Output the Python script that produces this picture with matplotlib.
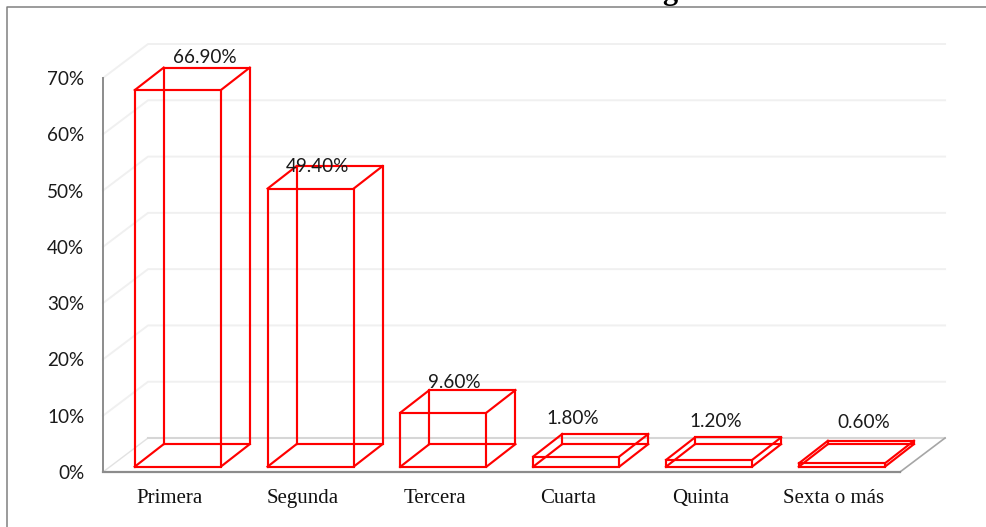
#!/usr/bin/env python3
import matplotlib
matplotlib.use('Agg')
import matplotlib.pyplot as plt
from matplotlib.lines import Line2D

categories = ['Primera', 'Segunda', 'Tercera', 'Cuarta', 'Quinta', 'Sexta o más']
values = [66.9, 49.4, 9.6, 1.8, 1.2, 0.6]
value_labels = ['66.90%', '49.40%', '9.60%', '1.80%', '1.20%', '0.60%']
y_ticks = [0, 10, 20, 30, 40, 50, 60, 70]

# label nudges in pixels, measured from the back top edge of each box
label_nudges = [(-2, 10), (-22, 0), (-18, 8), (-32, 16), (-22, 16), (-7, 18)]

W, H = 987, 527
RED = '#ff0000'

# oblique projection, in data units
BAR_W = 0.648
BAR_SHIFT = 0.563
BASE_Y = 0.95
BOX_DX, BOX_DY = 0.218, 4.0
WALL_DX, WALL_DY = 0.339, 6.04


def draw_box(ax, x0, x1, y0, y1):
    dx, dy = BOX_DX, BOX_DY
    edges = [
        # front face
        ([x0, x1, x1, x0, x0], [y0, y0, y1, y1, y0]),
        # back face
        ([x0 + dx, x1 + dx, x1 + dx, x0 + dx, x0 + dx],
         [y0 + dy, y0 + dy, y1 + dy, y1 + dy, y0 + dy]),
        # connecting edges
        ([x0, x0 + dx], [y0, y0 + dy]),
        ([x1, x1 + dx], [y0, y0 + dy]),
        ([x0, x0 + dx], [y1, y1 + dy]),
        ([x1, x1 + dx], [y1, y1 + dy]),
    ]
    for xs, ys in edges:
        ax.plot(xs, ys, color=RED, lw=1.55, clip_on=False, zorder=3,
                solid_joinstyle='miter')


def main():
    fig = plt.figure(figsize=(W / 100, H / 100), dpi=100)
    ax = fig.add_axes([103 / W, (H - 472) / H, (900 - 103) / W, (472 - 78) / H])
    ax.set_xlim(0, len(categories))
    ax.set_ylim(0, 70)
    ax.patch.set_visible(False)
    for s in ax.spines.values():
        s.set_visible(False)

    n = len(categories)

    # walls and floor
    for t in y_ticks[1:]:
        ax.plot([0, WALL_DX, n + WALL_DX], [t, t + WALL_DY, t + WALL_DY],
                color='#f0f0f0', lw=1.4, clip_on=False, zorder=1)
    ax.plot([0, WALL_DX], [0, WALL_DY], color='#e2e2e2', lw=1.0, clip_on=False, zorder=1)
    ax.plot([WALL_DX, n + WALL_DX], [WALL_DY, WALL_DY], color='#d6d6d6', lw=1.5,
            clip_on=False, zorder=1)
    ax.plot([n, n + WALL_DX], [0, WALL_DY], color='#a6a6a6', lw=1.2, clip_on=False, zorder=2)
    ax.plot([0, n], [0, 0], color='#8c8c8c', lw=1.6, clip_on=False, zorder=2)
    ax.plot([0, 0], [0, 70], color='#8c8c8c', lw=1.4, clip_on=False, zorder=2)

    for i, v in enumerate(values):
        x0 = i + BAR_SHIFT - BAR_W / 2
        draw_box(ax, x0, x0 + BAR_W, BASE_Y, BASE_Y + v)
        ax.annotate(value_labels[i],
                    xy=(i + BAR_SHIFT + BOX_DX, BASE_Y + v + BOX_DY),
                    xytext=label_nudges[i], textcoords='offset pixels',
                    ha='center', va='center', fontsize=13.6, family='Lato',
                    color='#1a1a1a', annotation_clip=False, zorder=4)

    ax.set_xticks([i + 0.5 for i in range(n)])
    ax.set_xticklabels(categories, family='Liberation Serif', fontsize=15, color='#111111')
    ax.set_yticks(y_ticks)
    ax.set_yticklabels([f'{t}%' for t in y_ticks], family='Lato', fontsize=13.6, color='#1a1a1a')
    ax.tick_params(axis='both', length=0)
    ax.tick_params(axis='x', pad=12)
    ax.tick_params(axis='y', pad=13.5)

    # outer frame, only left and top are in view
    fig.add_artist(Line2D([7 / W, 7 / W, 1], [0, 1 - 6.5 / H, 1 - 6.5 / H],
                          color='#808080', lw=1.1))

    # heading runs off the top edge
    fig.text(669.5 / W, 1 + 1.5 / H, 'g', family='Liberation Serif', weight='bold',
             fontsize=22, ha='center', va='baseline', color='black')

    fig.savefig('out.png', dpi=100)


if __name__ == '__main__':
    main()
